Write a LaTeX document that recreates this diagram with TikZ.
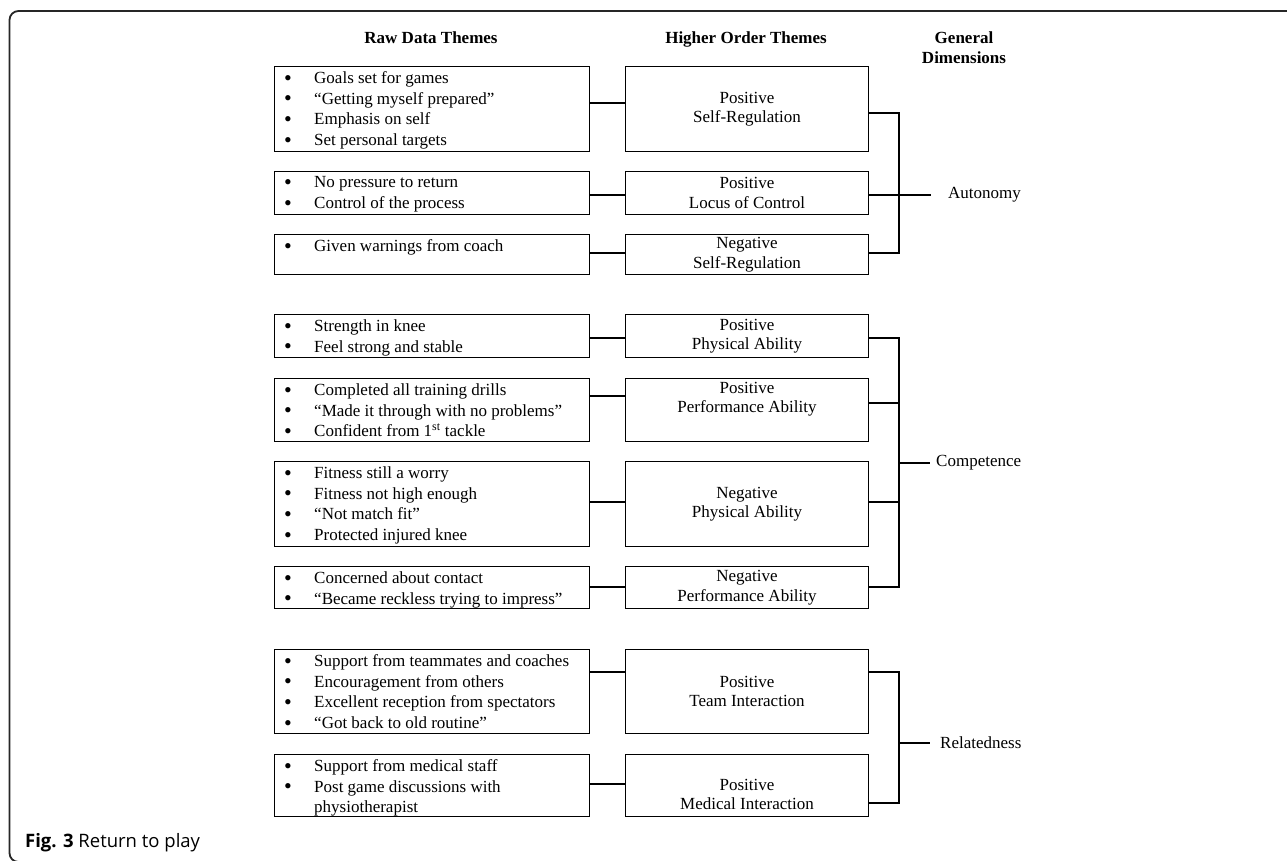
\documentclass[tikz,border=0pt]{standalone}
\usepackage{fontspec}
\setmainfont{Liberation Serif}
\newfontfamily\capfont{Open Sans}
\newcommand{\itm}{\makebox[30pt][l]{\raisebox{-1.8pt}{\scalebox{1.3}{\textbullet}}}}

\begin{document}
\begin{tikzpicture}[x=1pt, y=-1pt,
    every node/.style={inner sep=0, font=\fontsize{17}{20.7}\selectfont},
    rawbox/.style={draw, line width=1pt, anchor=north west, minimum width=315, minimum height=#1},
    themebox/.style={draw, line width=1pt, anchor=north west, minimum width=243, minimum height=#1,
        align=center, font=\fontsize{17}{19.5}\selectfont},
    items/.style={anchor=north west, align=left},
    head/.style={anchor=north, align=center, font=\bfseries\fontsize{17}{19.5}\selectfont},
    dim/.style={anchor=west},
    link/.style={line width=2pt}]
    \useasboundingbox (0,0) rectangle (1287,860);
    \clip (0,0) rectangle (1287,860);
    \draw[line width=1.8pt, black!85, rounded corners=9] (9.5,11) rectangle (1300,862);

    % column headings
    \node[head] (hraw) at (431,32) {Raw Data Themes};
    \node[head] (hhigh) at (746,32) {Higher Order Themes};
    \node[head] (hdim) at (964,32) {General\\Dimensions};

    % autonomy
    \node[rawbox=85] (ra1) at (274,66) {};
    \node[rawbox=43] (ra2) at (274,171) {};
    \node[rawbox=40] (ra3) at (274,234) {};
    \node[items] (ta1) at ([xshift=10,yshift=-5.3]ra1.north west) {\itm Goals set for games\\\itm “Getting myself prepared”\\\itm Emphasis on self\\\itm Set personal targets};
    \node[items] (ta2) at ([xshift=10,yshift=-5.3]ra2.north west) {\itm No pressure to return\\\itm Control of the process};
    \node[items] (ta3) at ([xshift=10,yshift=-5.3]ra3.north west) {\itm Given warnings from coach};
    \node[themebox=85] (ma1) at (625,66) {Positive\\Self-Regulation};
    \node[themebox=43] (ma2) at (625,171) {Positive\\Locus of Control};
    \node[themebox=40] (ma3) at (625,234) {Negative\\Self-Regulation};

    % competence
    \node[rawbox=43] (rb1) at (274,314) {};
    \node[rawbox=63] (rb2) at (274,378) {};
    \node[rawbox=85] (rb3) at (274,461) {};
    \node[rawbox=42] (rb4) at (274,566) {};
    \node[items] (tb1) at ([xshift=10,yshift=-5.3]rb1.north west) {\itm Strength in knee\\\itm Feel strong and stable};
    \node[items] (tb2) at ([xshift=10,yshift=-5.3]rb2.north west) {\itm Completed all training drills\\\itm “Made it through with no problems”\\\itm Confident from 1\textsuperscript{st} tackle};
    \node[items] (tb3) at ([xshift=10,yshift=-5.3]rb3.north west) {\itm Fitness still a worry\\\itm Fitness not high enough\\\itm “Not match fit”\\\itm Protected injured knee};
    \node[items] (tb4) at ([xshift=10,yshift=-5.3]rb4.north west) {\itm Concerned about contact\\\itm “Became reckless trying to impress”};
    \node[themebox=43] (mb1) at (625,314) {Positive\\Physical Ability};
    \node[themebox=63] (mb2) at (625,378) {Positive\\Performance Ability\\[6pt]\mbox{}};
    \node[themebox=85] (mb3) at (625,461) {Negative\\Physical Ability};
    \node[themebox=42] (mb4) at (625,566) {Negative\\Performance Ability};

    % relatedness
    \node[rawbox=84] (rc1) at (274,649) {};
    \node[rawbox=62] (rc2) at (274,754) {};
    \node[items] (tc1) at ([xshift=10,yshift=-5.3]rc1.north west) {\itm Support from teammates and coaches\\\itm Encouragement from others\\\itm Excellent reception from spectators\\\itm “Got back to old routine”};
    \node[items] (tc2) at ([xshift=10,yshift=-5.3]rc2.north west) {\itm Support from medical staff\\\itm Post game discussions with\\\makebox[30pt]{}physiotherapist};
    \node[themebox=84] (mc1) at (625,649) {Positive\\Team Interaction};
    \node[themebox=62] (mc2) at (625,754) {\mbox{}\\[9.5pt]Positive\\Medical Interaction};

    % general dimensions
    \node[dim, inner xsep=17pt] (autonomy) at (931,195) {Autonomy};
    \node[dim, inner xsep=6pt] (competence) at (930,463) {Competence};
    \node[dim, inner xsep=10pt] (relatedness) at (930,743) {Relatedness};
    \coordinate (ja) at (899,195);
    \coordinate (jb) at (899,463);
    \coordinate (jc) at (899,743);

    \draw[link] (ra1.east |- 0,103) -- (ma1.west |- 0,103);
    \draw[link] (ra2.east |- 0,195) -- (ma2.west |- 0,195);
    \draw[link] (ra3.east |- 0,253) -- (ma3.west |- 0,253);
    \draw[link] (ma1.east |- 0,113) -| (ja) |- (ma3.east |- 0,253);
    \draw[link] (ma2.east |- 0,195) -- (autonomy.west);

    \draw[link] (rb1.east |- 0,338) -- (mb1.west |- 0,338);
    \draw[link] (rb2.east |- 0,396) -- (mb2.west |- 0,396);
    \draw[link] (rb3.east |- 0,502) -- (mb3.west |- 0,502);
    \draw[link] (rb4.east |- 0,587) -- (mb4.west |- 0,587);
    \draw[link] (mb1.east |- 0,338) -| (jb) |- (mb4.east |- 0,587);
    \draw[link] (mb2.east |- 0,403) -- (jb |- 0,403);
    \draw[link] (mb3.east |- 0,502) -- (jb |- 0,502);
    \draw[link] (jb) -- (competence.west);

    \draw[link] (rc1.east |- 0,672) -- (mc1.west |- 0,672);
    \draw[link] (rc2.east |- 0,784) -- (mc2.west |- 0,784);
    \draw[link] (mc1.east |- 0,672) -| (jc) |- (mc2.east |- 0,803);
    \draw[link] (jc) -- (relatedness.west);

    \node[anchor=base west, font=\capfont\fontsize{18.5}{22}\selectfont] (caption) at (25,847) {\textbf{Fig. 3} Return to play};
\end{tikzpicture}
\end{document}
